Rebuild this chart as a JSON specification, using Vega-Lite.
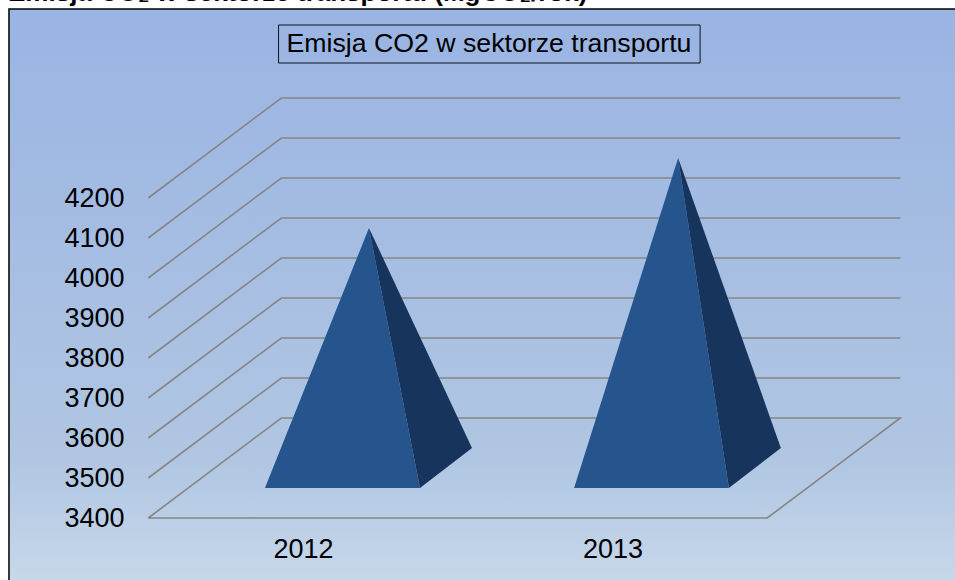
{"$schema":"https://vega.github.io/schema/vega-lite/v6.json","width":955,"height":580,"padding":0,"autosize":{"type":"none"},"background":"white","config":{"view":{"stroke":null},"font":"Liberation Sans"},
"title":{"text":"Emisja CO₂ w sektorze transportu (MgCO₂/rok)","anchor":"start","frame":"group","offset":-6,"dx":8,"fontSize":26,"fontWeight":"bold","font":"Liberation Sans","color":"black"},
"datasets":{
"frame":[{"year":2011.05,"yearEnd":2014.2,"co2":4672.5,"co2End":3220}],
"box":[{"year":2011.921,"yearEnd":2013.283,"co2":4632.5,"co2End":4537.5}],
"label":[{"year":2012.601,"co2":4585,"text":"Emisja CO2 w sektorze transportu"}],
"grid":[
{"series":"floor","step":1,"year":2011.5,"co2":3400},{"series":"floor","step":2,"year":2011.93,"co2":3650},{"series":"floor","step":3,"year":2013.93,"co2":3650},{"series":"floor","step":4,"year":2013.5,"co2":3400},{"series":"floor","step":5,"year":2011.5,"co2":3400},
{"series":"3500","step":1,"year":2011.5,"co2":3500},{"series":"3500","step":2,"year":2011.93,"co2":3750},{"series":"3500","step":3,"year":2013.93,"co2":3750},
{"series":"3600","step":1,"year":2011.5,"co2":3600},{"series":"3600","step":2,"year":2011.93,"co2":3850},{"series":"3600","step":3,"year":2013.93,"co2":3850},
{"series":"3700","step":1,"year":2011.5,"co2":3700},{"series":"3700","step":2,"year":2011.93,"co2":3950},{"series":"3700","step":3,"year":2013.93,"co2":3950},
{"series":"3800","step":1,"year":2011.5,"co2":3800},{"series":"3800","step":2,"year":2011.93,"co2":4050},{"series":"3800","step":3,"year":2013.93,"co2":4050},
{"series":"3900","step":1,"year":2011.5,"co2":3900},{"series":"3900","step":2,"year":2011.93,"co2":4150},{"series":"3900","step":3,"year":2013.93,"co2":4150},
{"series":"4000","step":1,"year":2011.5,"co2":4000},{"series":"4000","step":2,"year":2011.93,"co2":4250},{"series":"4000","step":3,"year":2013.93,"co2":4250},
{"series":"4100","step":1,"year":2011.5,"co2":4100},{"series":"4100","step":2,"year":2011.93,"co2":4350},{"series":"4100","step":3,"year":2013.93,"co2":4350},
{"series":"4200","step":1,"year":2011.5,"co2":4200},{"series":"4200","step":2,"year":2011.93,"co2":4450},{"series":"4200","step":3,"year":2013.93,"co2":4450}
],
"faces":[
{"face":"2012 front","shade":"front","year":2011.877,"co2":3475,"co2Base":3475},{"face":"2012 front","shade":"front","year":2012.213,"co2":4125,"co2Base":3475},{"face":"2012 front","shade":"front","year":2012.378,"co2":3475,"co2Base":3475},
{"face":"2012 side","shade":"side","year":2012.213,"co2":4125,"co2Base":4125},{"face":"2012 side","shade":"side","year":2012.378,"co2":3852.5,"co2Base":3475},{"face":"2012 side","shade":"side","year":2012.546,"co2":3575,"co2Base":3575},
{"face":"2013 front","shade":"front","year":2012.876,"co2":3475,"co2Base":3475},{"face":"2013 front","shade":"front","year":2013.212,"co2":4300,"co2Base":3475},{"face":"2013 front","shade":"front","year":2013.376,"co2":3475,"co2Base":3475},
{"face":"2013 side","shade":"side","year":2013.212,"co2":4300,"co2Base":4300},{"face":"2013 side","shade":"side","year":2013.376,"co2":3941.9,"co2Base":3475},{"face":"2013 side","shade":"side","year":2013.544,"co2":3575,"co2Base":3575}
]},
"encoding":{
"x":{"field":"year","type":"quantitative","title":null,"scale":{"domain":[2011.021,2014.1066],"nice":false,"zero":false},"axis":{"values":[2012,2013],"format":"d","offset":-45,"grid":false,"ticks":false,"domain":false,"labelFontSize":27,"labelColor":"black","labelPadding":1,"labelFlush":false,"labelBound":false,"labelOverlap":false,"zindex":1}},
"y":{"field":"co2","type":"quantitative","title":null,"scale":{"domain":[3245,4695],"nice":false,"zero":false},"axis":{"values":[3400,3500,3600,3700,3800,3900,4000,4100,4200],"format":"d","offset":-124,"grid":false,"ticks":false,"domain":false,"labelFontSize":27,"labelColor":"black","labelPadding":0,"labelFlush":false,"labelBound":false,"labelOverlap":false,"zindex":1}}
},
"layer":[
{"data":{"name":"frame"},"mark":{"type":"rect","stroke":"black","strokeWidth":1.5,"clip":false,"fill":{"x1":0,"y1":0,"x2":0,"y2":1,"gradient":"linear","stops":[{"offset":0,"color":"#9AB4E3"},{"offset":0.78,"color":"#B0C6E2"},{"offset":1,"color":"#C9D9EB"}]}},"encoding":{"x2":{"field":"yearEnd"},"y2":{"field":"co2End"}}},
{"data":{"name":"grid"},"mark":{"type":"line","color":"#868686","strokeWidth":1.6,"strokeJoin":"miter"},"encoding":{"detail":{"field":"series"},"order":{"field":"step","type":"quantitative"}}},
{"data":{"name":"faces"},"mark":{"type":"area","orient":"vertical","interpolate":"linear","line":false},"encoding":{"y2":{"field":"co2Base"},"detail":{"field":"face"},"color":{"field":"shade","type":"nominal","legend":null,"scale":{"domain":["front","side"],"range":["#26558E","#16345C"]}}}},
{"data":{"name":"box"},"mark":{"type":"rect","fillOpacity":0,"stroke":"#0d1520","strokeWidth":1},"encoding":{"x2":{"field":"yearEnd"},"y2":{"field":"co2End"}}},
{"data":{"name":"label"},"mark":{"type":"text","fontSize":26.7,"color":"black","align":"center","baseline":"middle"},"encoding":{"text":{"field":"text"}}}
]}
